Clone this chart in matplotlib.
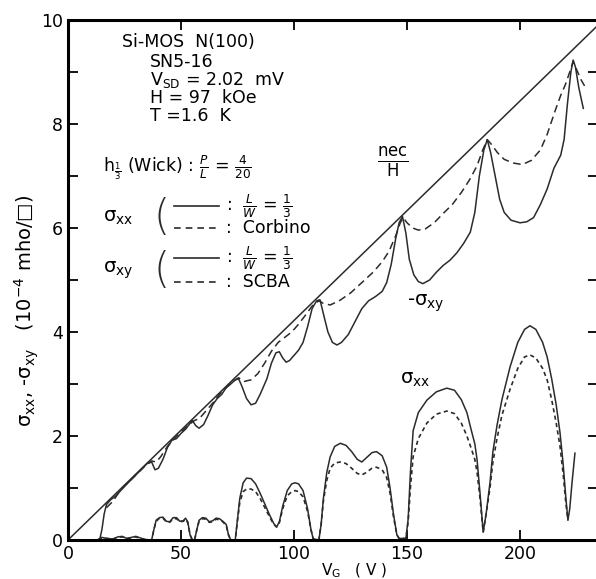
"""Quantum Hall conductivities of a Si-MOS sample vs gate voltage."""

import matplotlib

matplotlib.use("Agg")

import matplotlib.pyplot as plt  # noqa: E402
from matplotlib.lines import Line2D  # noqa: E402
from matplotlib.ticker import MultipleLocator  # noqa: E402

# -sigma_xy, measured (L/W = 1/3), solid
sxy_meas_v = [0, 14, 15, 16, 17, 19, 21, 25, 30, 35, 37, 38.5, 40, 42, 44, 46, 48, 50,
              52, 55, 56.5, 58, 60, 62, 64, 66, 68, 70, 72, 74, 75.5, 77, 79, 81, 83,
              85, 88, 90, 92, 93.5, 95, 96.5, 98, 100, 102, 104, 106, 108, 110, 111.5,
              113, 115, 117, 119, 121, 124, 127, 130, 133, 136, 139, 141, 143, 145,
              146.5, 148, 149.5, 151, 153, 155, 157, 160, 163, 166, 169, 172, 175, 178,
              180, 182, 184, 185.5, 187, 189, 191, 193, 196, 200, 203, 206, 209, 212,
              215, 218, 219.5, 221, 222.5, 223.5, 224.5, 226, 228]
sxy_meas = [0, 0, 0.2, 0.5, 0.68, 0.78, 0.84, 1.03, 1.25, 1.47, 1.5, 1.35, 1.38, 1.55,
            1.78, 1.92, 1.95, 2.05, 2.13, 2.3, 2.2, 2.15, 2.22, 2.4, 2.6, 2.72, 2.8,
            2.93, 3.0, 3.08, 3.1, 2.95, 2.72, 2.6, 2.63, 2.8, 3.1, 3.4, 3.6, 3.62, 3.5,
            3.42, 3.45, 3.55, 3.65, 3.8, 4.1, 4.45, 4.6, 4.62, 4.35, 4.0, 3.8, 3.75,
            3.8, 3.95, 4.2, 4.45, 4.6, 4.68, 4.78, 4.95, 5.3, 5.8, 6.1, 6.22, 5.9, 5.4,
            5.1, 4.97, 4.93, 5.0, 5.15, 5.28, 5.38, 5.52, 5.7, 5.92, 6.3, 7.0, 7.5, 7.7,
            7.45, 7.0, 6.55, 6.3, 6.15, 6.1, 6.12, 6.2, 6.45, 6.75, 7.15, 7.4, 7.7, 8.4,
            9.0, 9.23, 9.1, 8.7, 8.3]

# -sigma_xy, SCBA theory, dashed
sxy_scba_v = [17, 20, 23, 26, 30, 34, 37, 39, 41, 44, 47, 50, 53, 56, 58, 61, 64, 67,
              70, 73, 75.5, 78, 81, 84, 87, 90, 93, 96, 99, 102, 105, 108, 111, 113,
              116, 120, 125, 130, 135, 139, 142, 145, 147, 148.3, 150, 152.5, 155, 158,
              162, 166, 170, 174, 178, 181, 183.5, 185.5, 187.5, 190, 193, 197, 201,
              205, 209, 212, 215.5, 218, 220, 222, 223.5, 225, 227, 229]
sxy_scba = [0.62, 0.75, 0.95, 1.08, 1.25, 1.42, 1.52, 1.5, 1.6, 1.8, 1.95, 2.08, 2.2,
            2.3, 2.33, 2.48, 2.63, 2.8, 2.93, 3.05, 3.12, 3.05, 3.08, 3.2, 3.4, 3.63,
            3.8, 3.9, 4.0, 4.15, 4.32, 4.5, 4.6, 4.55, 4.52, 4.6, 4.75, 4.95, 5.15,
            5.35, 5.55, 5.85, 6.1, 6.2, 6.1, 6.0, 5.96, 5.98, 6.1, 6.28, 6.45, 6.68,
            6.95, 7.2, 7.5, 7.7, 7.6, 7.45, 7.32, 7.25, 7.22, 7.3, 7.5, 7.8, 8.25, 8.55,
            8.75, 9.0, 9.2, 9.05, 8.85, 8.7]

# sigma_xx, measured (L/W = 1/3) solid, Corbino dashed
sxx_v = [0, 13, 15, 17, 20, 22, 24, 26, 28, 30, 32, 34, 37, 38, 39, 40.5, 42, 43.5, 45,
         46.5, 48, 49.5, 51, 52, 53, 54, 55, 56, 57, 58, 59.5, 61, 62.5, 64, 65.5, 67,
         68.5, 70, 71, 72, 74, 75, 76, 77.5, 79, 81, 83, 85, 87, 89, 91, 92.3, 93.5,
         95, 97, 99, 100.5, 102, 104, 106, 107.5, 108.5, 111, 112, 113, 114.5, 116,
         118, 120.5, 123, 125.5, 128, 130, 132, 134.5, 136.5, 139, 141, 142.5, 144,
         145.5, 146.5, 149.5, 150.5, 151.5, 152.7, 155, 158.8, 163, 167.6, 171, 174,
         176.5, 178.5, 180, 181, 182.3, 183.7, 185, 186.7, 188, 189.8, 192, 195.6,
         199, 202, 204.4, 207, 210, 212, 214, 216, 217.7, 219, 220.3, 221.2, 222, 223,
         224.3]
sxx_meas = [0, 0, 0.05, 0.03, 0.02, 0.06, 0.07, 0.03, 0.05, 0.07, 0.04, 0.01, 0, 0.2,
            0.38, 0.43, 0.44, 0.36, 0.35, 0.43, 0.43, 0.36, 0.37, 0.42, 0.35, 0.1, 0, 0,
            0.2, 0.38, 0.43, 0.42, 0.35, 0.37, 0.42, 0.41, 0.36, 0.3, 0.1, 0, 0, 0.4,
            0.8, 1.1, 1.19, 1.18, 1.08, 0.9, 0.7, 0.5, 0.32, 0.25, 0.35, 0.65, 0.95,
            1.08, 1.1, 1.08, 0.95, 0.6, 0.2, 0.02, 0, 0.3, 0.8, 1.3, 1.6, 1.8, 1.86,
            1.82, 1.7, 1.55, 1.5, 1.58, 1.68, 1.7, 1.62, 1.4, 1.0, 0.5, 0.1, 0.03, 0.03,
            0.4, 1.3, 2.1, 2.45, 2.69, 2.85, 2.92, 2.88, 2.7, 2.45, 2.1, 1.85, 1.54, 0.9,
            0.15, 0.5, 1.1, 1.7, 2.2, 2.7, 3.33, 3.8, 4.05, 4.12, 4.05, 3.8, 3.52, 3.1,
            2.6, 2.06, 1.5, 0.8, 0.38, 0.6, 1.1, 1.67]
sxx_corb = [0, 0, 0.04, 0.03, 0.02, 0.05, 0.06, 0.03, 0.04, 0.06, 0.03, 0.01, 0, 0.2,
            0.36, 0.42, 0.42, 0.35, 0.34, 0.41, 0.41, 0.35, 0.36, 0.4, 0.33, 0.1, 0, 0,
            0.2, 0.36, 0.41, 0.4, 0.34, 0.35, 0.4, 0.39, 0.35, 0.28, 0.1, 0, 0, 0.38,
            0.72, 0.93, 0.98, 0.98, 0.93, 0.8, 0.63, 0.46, 0.3, 0.25, 0.33, 0.6, 0.85,
            0.93, 0.95, 0.93, 0.83, 0.55, 0.2, 0.02, 0, 0.3, 0.75, 1.15, 1.38, 1.48, 1.5,
            1.47, 1.38, 1.28, 1.25, 1.3, 1.38, 1.4, 1.35, 1.2, 0.9, 0.45, 0.1, 0.03,
            0.03, 0.35, 1.0, 1.6, 1.95, 2.25, 2.42, 2.48, 2.43, 2.25, 2.0, 1.75, 1.55,
            1.3, 0.8, 0.15, 0.5, 1.0, 1.5, 1.95, 2.4, 2.9, 3.3, 3.52, 3.56, 3.5, 3.3,
            3.08, 2.7, 2.25, 1.8, 1.3, 0.7, 0.38, None, None, None]

# classical Hall line nec/H
nech_v = [0, 234.5]
nech = [0, 9.9]

x_ticks = [0, 50, 100, 150, 200]
y_ticks = [0, 2, 4, 6, 8, 10]

plt.rcParams["mathtext.fontset"] = "dejavusans"
ink = "#2b2b2b"

fig = plt.figure(figsize=(5.96, 5.79), dpi=100)
ax = fig.add_axes([68 / 596, 39 / 579, 530 / 596, 520 / 579])

ax.plot(nech_v, nech, color=ink, lw=1.1)
ax.plot(sxy_meas_v, sxy_meas, color=ink, lw=1.1)
ax.plot(sxy_scba_v, sxy_scba, color=ink, lw=1.1, dashes=(5, 3))
ax.plot(sxx_v, sxx_meas, color=ink, lw=1.1)
ax.plot(sxx_v, [float("nan") if c is None else c for c in sxx_corb],
        color=ink, lw=1.2, dashes=(2.5, 2))

ax.set_xlim(0, 234.5)
ax.set_ylim(0, 10)
ax.set_xticks(x_ticks)
ax.set_yticks(y_ticks)
ax.yaxis.set_minor_locator(MultipleLocator(1))
ax.tick_params(which="both", direction="in", top=True, right=True, length=7,
               width=1.3, labelsize=12.5, colors="black")
for s in ax.spines.values():
    s.set_linewidth(2.2)

ax.set_ylabel("σ$_{\\mathrm{xx}}$, -σ$_{\\mathrm{xy}}$   (10$^{-4}$ mho/□)",
              fontsize=14)
ax.yaxis.set_label_coords(-0.05, 0.44)
ax.set_xlabel("V$_{\\mathrm{G}}$   ( V )", fontsize=11)
ax.xaxis.set_label_coords(0.54, -0.042)

fs = 12.5
ax.text(23.9, 9.58, "Si-MOS  N(100)", fontsize=fs, va="center")
ax.text(36.3, 9.19, "SN5-16", fontsize=fs, va="center")
ax.text(36.3, 8.85, "V$_{\\mathrm{SD}}$ = 2.02  mV", fontsize=fs, va="center")
ax.text(36.3, 8.5, "H = 97  kOe", fontsize=fs, va="center")
ax.text(36.3, 8.15, "T =1.6  K", fontsize=fs, va="center")
ax.text(15.5, 7.15, "h$_{\\frac{1}{3}}$ (Wick) : $\\frac{P}{L}$ = $\\frac{4}{20}$",
        fontsize=fs, va="center")

# two small legends with a big bracket each
for ylab, ytop, ybot, text_bot in [(6.2, 6.42, 6.0, "Corbino"),
                                   (5.19, 5.42, 4.96, "SCBA")]:
    name = "σ$_{\\mathrm{xx}}$" if text_bot == "Corbino" else "σ$_{\\mathrm{xy}}$"
    ax.text(15.5, ylab, name, fontsize=14, va="center")
    ax.text(38, (ytop + ybot) / 2, "(", fontsize=30, va="center", color=ink,
            fontweight="light")
    ax.add_line(Line2D([47, 67], [ytop, ytop], color=ink, lw=1.2))
    ax.add_line(Line2D([47, 67], [ybot, ybot], color=ink, lw=1.2, dashes=(4, 3)))
    ax.text(70, ytop, ":  $\\frac{L}{W}$ = $\\frac{1}{3}$", fontsize=fs, va="center")
    ax.text(70, ybot, ":  " + text_bot, fontsize=fs, va="center")

ax.text(143.8, 7.25, "$\\frac{\\mathrm{nec}}{\\mathrm{H}}$", fontsize=17,
        ha="center", va="center")
ax.text(158.4, 4.56, "-σ$_{\\mathrm{xy}}$", fontsize=14, ha="center", va="center")
ax.text(153.5, 3.08, "σ$_{\\mathrm{xx}}$", fontsize=14, ha="center", va="center")

fig.savefig("out.png", dpi=100)
plt.close(fig)
